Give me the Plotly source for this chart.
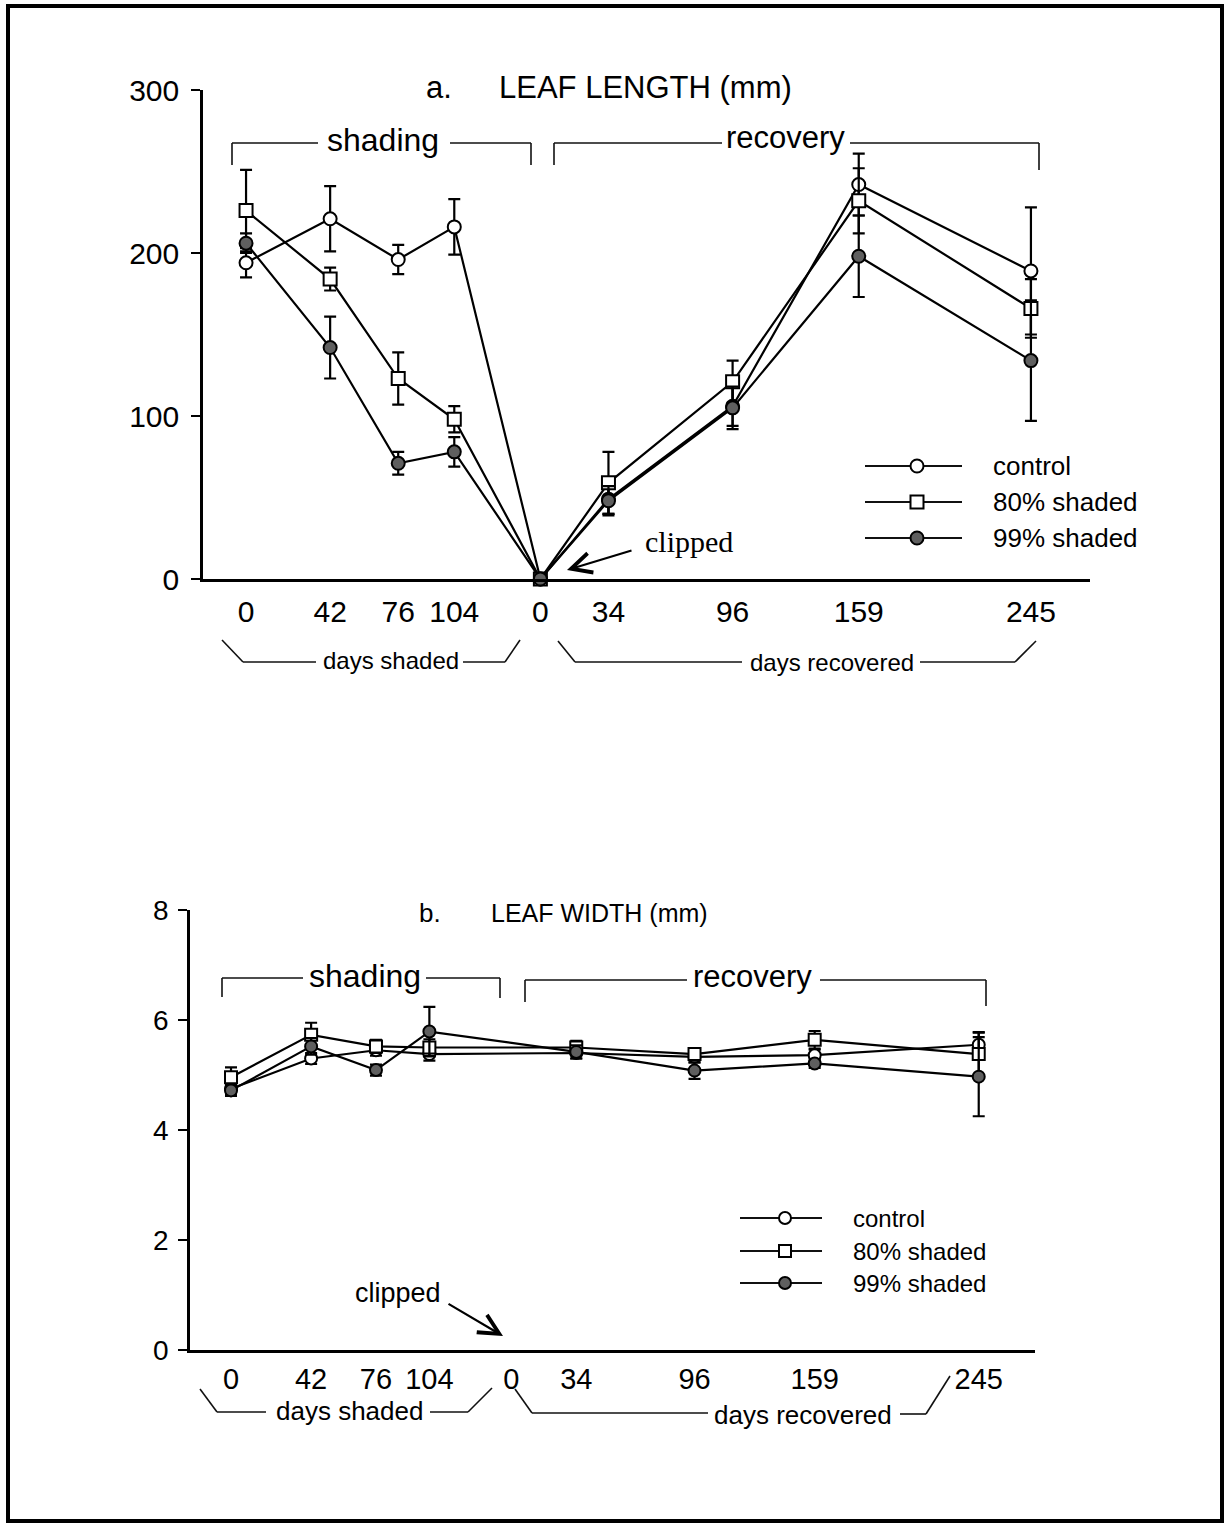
import plotly.graph_objects as go

# ---------------- data ----------------
shade_days = [0, 42, 76, 104]
recov_days_a = [0, 34, 96, 159, 245]      # panel a includes the clipped point (day 0 of recovery)
recov_days_b = [34, 96, 159, 245]
tick_labels = ["0", "42", "76", "104", "0", "34", "96", "159", "245"]
series_names = ["control", "80% shaded", "99% shaded"]

# Panel a: leaf length (mm)
len_control = [194, 221, 196, 216, 0, 49, 106, 242, 189]
len_control_err = [9, 20, 9, 17, 0, 9, 12, 19, 39]
len_80 = [226, 184, 123, 98, 0, 59, 121, 232, 166]
len_80_err = [25, 7, 16, 8, 0, 19, 13, 20, 18]
len_99 = [206, 142, 71, 78, 0, 48, 105, 198, 134]
len_99_err = [6, 19, 7, 9, 0, 9, 13, 25, 37]

# Panel b: leaf width (mm)
wid_control = [4.75, 5.30, 5.45, 5.38, 5.40, 5.33, 5.36, 5.55]
wid_control_err = [0.10, 0.10, 0.10, 0.12, 0.10, 0.10, 0.10, 0.22]
wid_80 = [4.96, 5.73, 5.52, 5.50, 5.50, 5.38, 5.64, 5.38]
wid_80_err = [0.18, 0.22, 0.12, 0.15, 0.12, 0.10, 0.16, 0.40]
wid_99 = [4.72, 5.52, 5.09, 5.79, 5.42, 5.08, 5.21, 4.97]
wid_99_err = [0.10, 0.15, 0.10, 0.45, 0.12, 0.15, 0.08, 0.72]

# ---------------- layout constants ----------------
W, H = 1229, 1527
RECOVERY_OFFSET = 147   # axis units separating the shading and recovery time scales
FONT = "Liberation Sans, Arial, Helvetica, sans-serif"
SERIF = "Liberation Serif, Times New Roman, serif"


def X(px):
    return px / W


def Y(py):
    return 1 - py / H


xa = shade_days + [RECOVERY_OFFSET + d for d in recov_days_a]
xb = shade_days + [RECOVERY_OFFSET + d for d in recov_days_b]

styles = [
    dict(symbol="circle", color="white"),
    dict(symbol="square", color="white"),
    dict(symbol="circle", color="#5f5f5f"),
]

fig = go.Figure()

panel_a = [(len_control, len_control_err), (len_80, len_80_err), (len_99, len_99_err)]
panel_b = [(wid_control, wid_control_err), (wid_80, wid_80_err), (wid_99, wid_99_err)]

for name, st, (vals, err) in zip(series_names, styles, panel_a):
    fig.add_trace(go.Scatter(
        x=xa, y=vals, name=name, mode="lines+markers", xaxis="x", yaxis="y",
        line=dict(color="black", width=2.2),
        marker=dict(symbol=st["symbol"], size=13, color=st["color"],
                    line=dict(color="black", width=2)),
        error_y=dict(type="data", array=err, color="black", thickness=2.2, width=6),
        cliponaxis=False, showlegend=False))

for name, st, (vals, err) in zip(series_names, styles, panel_b):
    fig.add_trace(go.Scatter(
        x=xb, y=vals, name=name, mode="lines+markers", xaxis="x2", yaxis="y2",
        line=dict(color="black", width=2.2),
        marker=dict(symbol=st["symbol"], size=12, color=st["color"],
                    line=dict(color="black", width=2)),
        error_y=dict(type="data", array=err, color="black", thickness=2.2, width=6),
        cliponaxis=False, showlegend=False))

axis_common = dict(showgrid=False, zeroline=False, showline=True, linecolor="black",
                   linewidth=2.5, fixedrange=True, automargin=False)

fig.update_layout(
    width=W, height=H, margin=dict(l=0, r=0, t=0, b=0, pad=0, autoexpand=False),
    autosize=False,
    paper_bgcolor="white", plot_bgcolor="white",
    font=dict(family=FONT, color="black"),
    xaxis=dict(domain=[X(203), X(1090)], range=[-21.5, 421.5], anchor="y",
               tickmode="array", tickvals=xa, ticktext=tick_labels,
               ticks="outside", ticklen=4, tickcolor="rgba(0,0,0,0)",
               tickfont=dict(size=30, family=FONT), **axis_common),
    yaxis=dict(domain=[Y(579), Y(90)], range=[0, 300], anchor="x",
               tickmode="array", tickvals=[0, 100, 200, 300],
               ticks="outside", ticklen=9, tickwidth=2.2, tickcolor="black",
               ticklabelstandoff=6,
               tickfont=dict(size=30, family=FONT), **axis_common),
    xaxis2=dict(domain=[X(190), X(1035)], range=[-21.5, 421.5], anchor="y2",
                tickmode="array", tickvals=xb[:4] + [RECOVERY_OFFSET] + xb[4:],
                ticktext=tick_labels,
                ticks="outside", ticklen=1, tickcolor="rgba(0,0,0,0)",
                tickfont=dict(size=29, family=FONT), **axis_common),
    yaxis2=dict(domain=[Y(1350), Y(910)], range=[0, 8], anchor="x2",
                tickmode="array", tickvals=[0, 2, 4, 6, 8],
                ticks="outside", ticklen=9, tickwidth=2.2, tickcolor="black",
                ticklabelstandoff=4,
                tickfont=dict(size=28, family=FONT), **axis_common),
)

shapes = []


def seg(x0, y0, x1, y1, w=1.6):
    shapes.append(dict(type="line", xref="paper", yref="paper",
                       x0=X(x0), y0=Y(y0), x1=X(x1), y1=Y(y1),
                       line=dict(color="#111111", width=w)))


def poly(points, w=1.6):
    for (a, b), (c, d) in zip(points[:-1], points[1:]):
        seg(a, b, c, d, w)


# page frame
shapes.append(dict(type="rect", xref="paper", yref="paper",
                   x0=X(8), y0=Y(1521), x1=X(1222), y1=Y(6),
                   line=dict(color="black", width=4)))

# --- panel a brackets ---
poly([(232, 165), (232, 143), (318, 143)])
poly([(450, 143), (531, 143), (531, 165)])
poly([(554, 165), (554, 143), (722, 143)])
poly([(850, 143), (1039, 143), (1039, 170)])
poly([(222, 640), (243, 662), (316, 662)])
poly([(463, 662), (505, 662), (520, 640)])
poly([(558, 641), (575, 662), (742, 662)])
poly([(920, 662), (1015, 662), (1036, 641)])

# --- panel b brackets ---
poly([(222, 997), (222, 978), (303, 978)])
poly([(426, 978), (500, 978), (500, 998)])
poly([(525, 1002), (525, 980), (687, 980)])
poly([(820, 980), (986, 980), (986, 1006)])
poly([(200, 1389), (217, 1412), (266, 1412)])
poly([(430, 1412), (468, 1412), (492, 1388)])
poly([(515, 1389), (532, 1413), (708, 1413)])
poly([(900, 1414), (926, 1414), (950, 1376)])

# --- custom legends ---
def legend(x0, x1, xm, ys, size, texts_x, fs):
    anns = []
    for st, yy, name in zip(styles, ys, series_names):
        seg(x0, yy, x1, yy, 2.2)
        r = size / 2
        shapes.append(dict(type="circle" if st["symbol"] == "circle" else "rect",
                           xref="paper", yref="paper",
                           xsizemode="pixel", ysizemode="pixel",
                           xanchor=X(xm), yanchor=Y(yy),
                           x0=-r, x1=r, y0=-r, y1=r,
                           fillcolor=st["color"], line=dict(color="black", width=2)))
        anns.append(dict(x=X(texts_x), y=Y(yy), xref="paper", yref="paper",
                         text=name, showarrow=False, xanchor="left", yanchor="middle",
                         font=dict(size=fs, family=FONT)))
    return anns


annotations = []
annotations += legend(865, 962, 917, [466, 502, 538], 13, 991, 26)
annotations += legend(740, 822, 785, [1218, 1251, 1283], 12, 851, 24)


def txt(x, y, s, size, anchor="center", family=FONT):
    annotations.append(dict(x=X(x), y=Y(y), xref="paper", yref="paper", text=s,
                            showarrow=False, xanchor=anchor, yanchor="middle",
                            font=dict(size=size, family=family, color="black")))


# titles
txt(439, 88, "a.", 31)
txt(497, 88, "LEAF LENGTH (mm)", 31, "left")
txt(430, 913, "b.", 26)
txt(489, 913, "LEAF WIDTH (mm)", 25, "left")

# phase labels
txt(383, 140, "shading", 32)
txt(786, 137, "recovery", 31)
txt(365, 976, "shading", 32)
txt(752, 977, "recovery", 31)
txt(391, 660, "days shaded", 24)
txt(832, 662, "days recovered", 24)
txt(349, 1411, "days shaded", 26)
txt(803, 1415, "days recovered", 26)

# clipped labels & arrows
txt(689, 541, "clipped", 30, family=SERIF)
annotations.append(dict(x=X(567), y=Y(570), xref="paper", yref="paper", text="",
                        showarrow=True, arrowhead=5, arrowsize=1.8, arrowwidth=2.2,
                        arrowcolor="black", ax=66, ay=-20))
txt(398, 1293, "clipped", 27)
annotations.append(dict(x=X(503), y=Y(1336), xref="paper", yref="paper", text="",
                        showarrow=True, arrowhead=5, arrowsize=1.8, arrowwidth=2.2,
                        arrowcolor="black", ax=-56, ay=-33))

fig.update_layout(shapes=shapes, annotations=annotations)

fig.write_html("out.html", config={"displayModeBar": False},
               post_script="document.body.style.margin='0';document.body.style.overflow='hidden';")
